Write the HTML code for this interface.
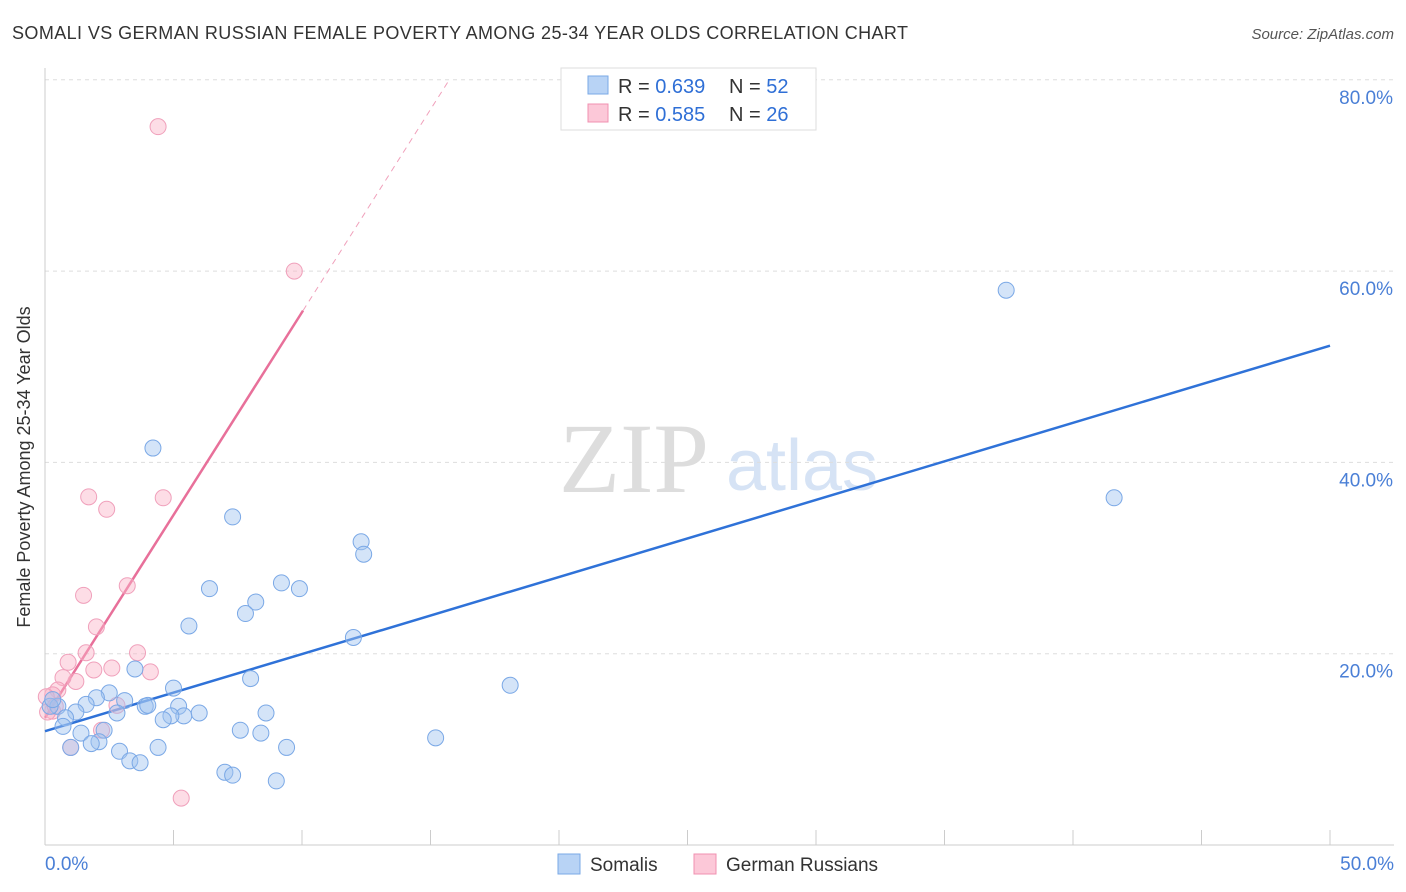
<!DOCTYPE html>
<html><head><meta charset="utf-8"><style>
body{margin:0;background:#fff;font-family:"Liberation Sans",sans-serif}
svg{display:block}
</style></head><body>
<svg width="1406" height="892" xmlns="http://www.w3.org/2000/svg">
<text x="12" y="39" font-size="18" fill="#333" textLength="896" lengthAdjust="spacing">SOMALI VS GERMAN RUSSIAN FEMALE POVERTY AMONG 25-34 YEAR OLDS CORRELATION CHART</text>
<text x="1394" y="39" font-size="15" fill="#555" font-style="italic" text-anchor="end">Source: ZipAtlas.com</text>
<g>
<text x="634" y="492" font-size="100" fill="#ddd" font-family="Liberation Serif" text-anchor="middle">ZIP</text>
<text x="802" y="490" font-size="72" fill="#d6e3f5" text-anchor="middle">atlas</text>
</g>
<g id="grid"></g>
<g id="axes"></g>
<g id="lines"></g>
<g id="pts"></g>
<text x="18" y="455" font-size="18" fill="#333" text-anchor="middle" transform="rotate(-90 30 455)">Female Poverty Among 25-34 Year Olds</text>
<g>
<rect x="561" y="68" width="255" height="62" fill="#fff" stroke="#ddd"/>
<rect x="588" y="76" width="20" height="18" fill="#b8d3f5" stroke="#7aa8e6"/>
<rect x="588" y="104" width="20" height="18" fill="#fcc8d8" stroke="#f090b0"/>
<text x="618" y="93" font-size="20" fill="#333">R = <tspan fill="#2f6fd6">0.639</tspan></text>
<text x="729" y="93" font-size="20" fill="#333">N = <tspan fill="#2f6fd6">52</tspan></text>
<text x="618" y="121" font-size="20" fill="#333">R = <tspan fill="#2f6fd6">0.585</tspan></text>
<text x="729" y="121" font-size="20" fill="#333">N = <tspan fill="#2f6fd6">26</tspan></text>
</g>
<g>
<rect x="558" y="854" width="22" height="20" fill="#b8d3f5" stroke="#7aa8e6"/>
<text x="590" y="871" font-size="19" fill="#333">Somalis</text>
<rect x="694" y="854" width="22" height="20" fill="#fcc8d8" stroke="#f090b0"/>
<text x="726" y="871" font-size="19" fill="#333">German Russians</text>
</g>
</svg>
<script>
const yTicks=[20,40,60,80];
const yTickLabels=["20.0%","40.0%","60.0%","80.0%"];
const xTickLabels=["0.0%","50.0%"];
const somaliX=[4.2,7.3,12.3,12.4,6.4,9.2,9.9,8.2,7.8,5.6,12.0,3.5,8.0,5.0,2.5,2.0,3.1,1.6,3.9,4.0,5.2,0.5,0.2,1.2,2.8,6.0,8.6,5.4,4.9,4.6,0.8,0.7,1.4,2.3,7.6,8.4,15.2,2.1,1.8,1.0,4.4,9.4,2.9,3.3,3.7,7.0,7.3,9.0,37.4,41.6,18.1,0.3];
const somaliY=[41.5,34.3,31.7,30.4,26.8,27.4,26.8,25.4,24.2,22.9,21.7,18.4,17.4,16.4,15.9,15.4,15.1,14.7,14.5,14.6,14.5,14.5,14.5,13.9,13.8,13.8,13.8,13.5,13.5,13.1,13.3,12.4,11.7,12.0,12.0,11.7,11.2,10.8,10.6,10.2,10.2,10.2,9.8,8.8,8.6,7.6,7.3,6.7,58.0,36.3,16.7,15.2];
const grX=[4.4,9.7,1.7,4.6,2.4,3.2,1.5,2.0,3.6,1.6,0.9,1.9,2.6,4.1,1.2,0.7,0.5,0.3,2.8,0.3,0.1,2.2,1.0,5.3,0.05,0.4];
const grY=[75.1,60.0,36.4,36.3,35.1,27.1,26.1,22.8,20.1,20.1,19.1,18.3,18.5,18.1,17.1,17.5,16.2,15.7,14.6,14.0,13.9,12.0,10.2,4.9,15.5,14.5];
const somaliTrend=[11.9,52.2]; // at x=0 and x=50
const grTrend=[13.3,4.24]; // intercept, slope
const X=v=>45+v*25.7, Y=v=>845-v*9.565;
const NS="http://www.w3.org/2000/svg";
function mk(t,a,p){const e=document.createElementNS(NS,t);for(const k in a)e.setAttribute(k,a[k]);p.appendChild(e);return e;}
const grid=document.getElementById('grid'),axes=document.getElementById('axes'),lines=document.getElementById('lines'),pts=document.getElementById('pts');
yTicks.forEach((t,i)=>{
 const l=mk('line',{x1:45,x2:1394,y1:Y(t),y2:Y(t),stroke:'#ddd','stroke-dasharray':'4,4'},grid);
 
 
 const tx=mk('text',{x:1393,y:Y(t)+24,'font-size':19,fill:'#4a7fd6','text-anchor':'end'},axes);
 tx.textContent=yTickLabels[i];
 
 
});
mk('line',{x1:45,x2:45,y1:68,y2:845,stroke:'#ccc'},axes);
mk('line',{x1:45,x2:1394,y1:845,y2:845,stroke:'#ccc'},axes);
for(let i=0;i<=10;i++){const tk=mk('line',{x1:X(i*5),x2:X(i*5),y1:830,y2:845,stroke:'#ccc'},axes);
 
 }
[[45,'start',0],[1394,'end',1]].forEach(([x,a,i])=>{const t=mk('text',{x:x,y:870,'font-size':19,fill:'#4a7fd6','text-anchor':a},axes);t.textContent=xTickLabels[i];
 
 });
const bl=mk('line',{x1:X(0),y1:Y(somaliTrend[0]),x2:X(50),y2:Y(somaliTrend[1]),stroke:'#2f72d8','stroke-width':2.5},lines);


const pxe=10.04,pxd=(80-grTrend[0])/grTrend[1];
const pl=mk('line',{x1:X(0),y1:Y(grTrend[0]),x2:X(pxe),y2:Y(grTrend[0]+grTrend[1]*pxe),stroke:'#e8709a','stroke-width':2.5},lines);


const pd=mk('line',{x1:X(pxe),y1:Y(grTrend[0]+grTrend[1]*pxe),x2:X(pxd),y2:Y(80),stroke:'#f0a0bb','stroke-width':1,'stroke-dasharray':'6,5'},lines);


grX.forEach((x,i)=>{const c=mk('circle',{cx:X(x),cy:Y(grY[i]),r:8,fill:'rgba(250,180,200,0.45)',stroke:'#f0a0bb','stroke-width':1},pts);
 
 });
somaliX.forEach((x,i)=>{const c=mk('circle',{cx:X(x),cy:Y(somaliY[i]),r:8,fill:'rgba(160,195,240,0.45)',stroke:'#7aa8e6','stroke-width':1},pts);
 
 });
</script>
</body></html>
